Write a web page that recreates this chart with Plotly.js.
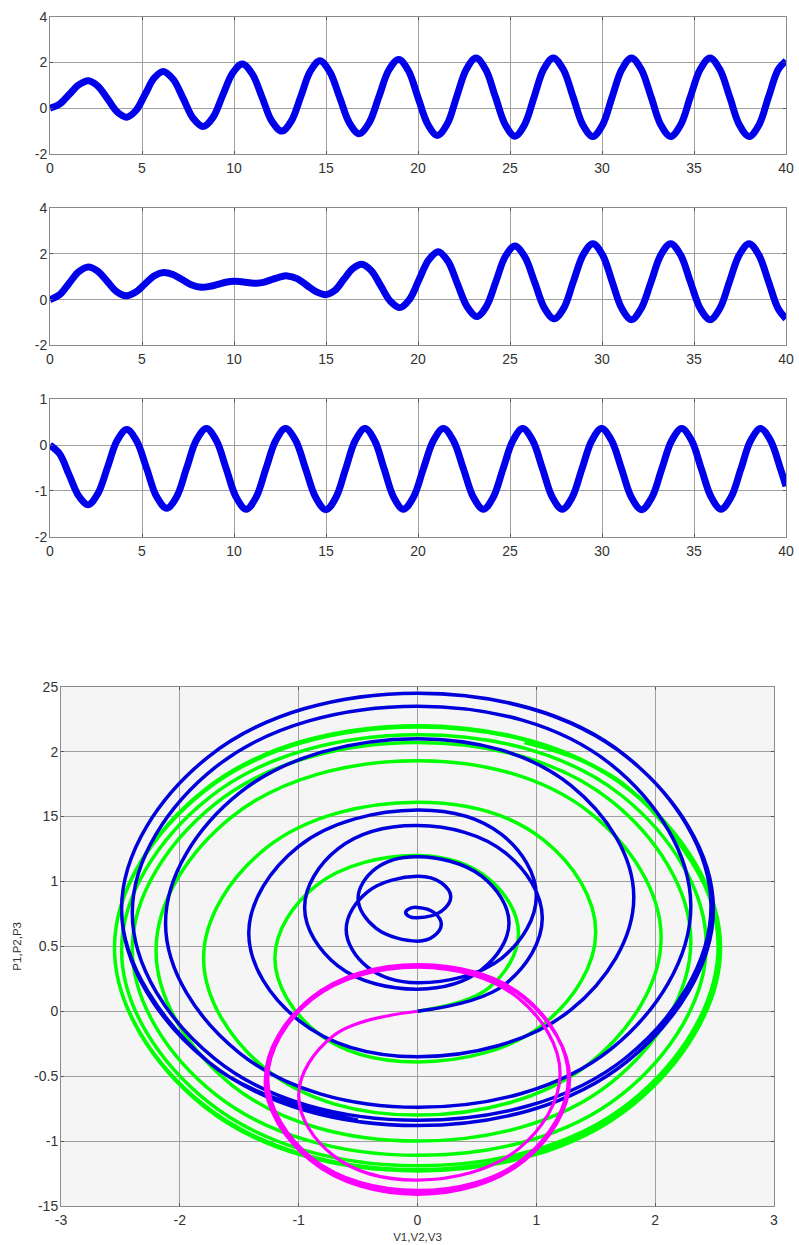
<!DOCTYPE html>
<html><head><meta charset="utf-8">
<script src="https://cdn.plot.ly/plotly-3.0.1.min.js"></script>
<style>html,body{margin:0;padding:0;background:#fff}#chart{width:799px;height:1245px}</style>
</head><body><div id="chart"></div>
<script>
// ---- data (time, P, and V = dP/dt) ----
const t1 = [0, 0.52, 1.04, 1.56, 2.08, 2.6, 3.13, 3.65, 4.17, 4.67, 5.17, 5.66, 6.16, 6.7, 7.25, 7.79, 8.33, 8.86, 9.39, 9.92, 10.45, 10.99, 11.53, 12.06, 12.6, 13.12, 13.64, 14.15, 14.67, 15.2, 15.74, 16.27, 16.8, 17.34, 17.88, 18.41, 18.95, 19.48, 20.0, 20.53, 21.05, 21.58, 22.1, 22.63, 23.15, 23.68, 24.21, 24.74, 25.27, 25.79, 26.31, 26.83, 27.35, 27.89, 28.43, 28.96, 29.5, 30.03, 30.55, 31.08, 31.6, 32.13, 32.67, 33.2, 33.73, 34.27, 34.8, 35.34, 35.87, 36.4, 36.94, 37.47, 38.0, 38.53, 39.05, 39.58, 40];
const p1 = [0, 0.18, 0.6, 1.02, 1.2, 0.97, 0.41, -0.16, -0.39, -0.1, 0.61, 1.32, 1.61, 1.26, 0.41, -0.45, -0.8, -0.4, 0.57, 1.53, 1.93, 1.5, 0.47, -0.57, -1.0, -0.55, 0.54, 1.62, 2.07, 1.6, 0.48, -0.64, -1.11, -0.64, 0.51, 1.66, 2.13, 1.64, 0.47, -0.7, -1.19, -0.7, 0.5, 1.7, 2.19, 1.69, 0.49, -0.72, -1.22, -0.72, 0.49, 1.7, 2.2, 1.7, 0.49, -0.73, -1.23, -0.73, 0.49, 1.7, 2.2, 1.7, 0.49, -0.73, -1.23, -0.73, 0.49, 1.7, 2.2, 1.7, 0.49, -0.73, -1.23, -0.73, 0.49, 1.7, 2.07];
const v1 = [0, 0.6, 0.85, 0.6, 0, -0.85, -1.2, -0.85, 0, 1.06, 1.5, 1.06, 0, -1.27, -1.8, -1.27, 0, 1.45, 2.05, 1.45, 0, -1.56, -2.2, -1.56, 0, 1.63, 2.3, 1.63, 0, -1.7, -2.4, -1.7, 0, 1.72, 2.43, 1.72, 0, -1.76, -2.49, -1.76, 0, 1.79, 2.53, 1.79, 0, -1.8, -2.55, -1.8, 0, 1.8, 2.55, 1.8, 0, -1.8, -2.55, -1.8, 0, 1.8, 2.55, 1.8, 0, -1.8, -2.55, -1.8, 0, 1.8, 2.55, 1.8, 0, -1.8, -2.55, -1.8, 0, 1.8, 2.55, 1.8, 0.9];

const t2 = [0, 0.52, 1.04, 1.56, 2.08, 2.59, 3.11, 3.62, 4.13, 4.64, 5.15, 5.65, 6.16, 6.68, 7.2, 7.71, 8.23, 8.67, 9.12, 9.56, 10.0, 10.31, 10.62, 10.92, 11.23, 11.65, 12.07, 12.48, 12.9, 13.43, 13.95, 14.48, 15.0, 15.49, 15.97, 16.46, 16.94, 17.46, 17.98, 18.5, 19.02, 19.54, 20.06, 20.58, 21.1, 21.63, 22.15, 22.68, 23.2, 23.72, 24.24, 24.75, 25.27, 25.8, 26.34, 26.87, 27.4, 27.93, 28.45, 28.98, 29.5, 30.03, 30.55, 31.08, 31.6, 32.13, 32.67, 33.2, 33.73, 34.27, 34.8, 35.34, 35.87, 36.4, 36.93, 37.46, 37.99, 38.52, 39.05, 39.57, 40];
const p2 = [0, 0.21, 0.72, 1.22, 1.43, 1.25, 0.8, 0.35, 0.17, 0.32, 0.68, 1.04, 1.19, 1.1, 0.87, 0.64, 0.54, 0.58, 0.67, 0.76, 0.8, 0.79, 0.76, 0.73, 0.72, 0.77, 0.88, 0.99, 1.04, 0.92, 0.63, 0.34, 0.22, 0.41, 0.89, 1.36, 1.55, 1.27, 0.6, -0.07, -0.35, 0.01, 0.88, 1.74, 2.1, 1.68, 0.68, -0.32, -0.74, -0.29, 0.81, 1.9, 2.35, 1.88, 0.76, -0.37, -0.84, -0.36, 0.81, 1.97, 2.45, 1.96, 0.79, -0.39, -0.88, -0.39, 0.79, 1.96, 2.45, 1.96, 0.79, -0.39, -0.88, -0.39, 0.79, 1.96, 2.45, 1.96, 0.79, -0.39, -0.84];
const v2 = [0, 0.74, 1.05, 0.74, 0, -0.67, -0.95, -0.67, 0, 0.54, 0.77, 0.54, 0, -0.35, -0.5, -0.35, 0, 0.14, 0.2, 0.14, 0, -0.07, -0.1, -0.07, 0, 0.2, 0.28, 0.2, 0, -0.42, -0.6, -0.42, 0, 0.71, 1.0, 0.71, 0, -1.0, -1.42, -1.0, 0, 1.29, 1.82, 1.29, 0, -1.5, -2.12, -1.5, 0, 1.63, 2.3, 1.63, 0, -1.7, -2.4, -1.7, 0, 1.75, 2.47, 1.75, 0, -1.76, -2.49, -1.76, 0, 1.76, 2.49, 1.76, 0, -1.76, -2.49, -1.76, 0, 1.76, 2.49, 1.76, 0, -1.76, -2.49, -1.76, -0.5];

const t3 = [0, 0.52, 1.04, 1.56, 2.08, 2.6, 3.13, 3.65, 4.17, 4.71, 5.26, 5.8, 6.34, 6.88, 7.42, 7.96, 8.5, 9.04, 9.58, 10.12, 10.66, 11.2, 11.73, 12.27, 12.8, 13.35, 13.9, 14.45, 15.0, 15.53, 16.06, 16.59, 17.12, 17.64, 18.16, 18.68, 19.2, 19.75, 20.29, 20.84, 21.38, 21.92, 22.47, 23.01, 23.55, 24.09, 24.62, 25.16, 25.69, 26.23, 26.77, 27.3, 27.84, 28.38, 28.91, 29.45, 29.98, 30.52, 31.07, 31.61, 32.15, 32.7, 33.24, 33.79, 34.33, 34.87, 35.4, 35.94, 36.47, 37.01, 37.55, 38.08, 38.62, 39.16, 39.7, 40];
const p3 = [0, -0.19, -0.65, -1.11, -1.3, -1.06, -0.48, 0.1, 0.34, 0.09, -0.52, -1.13, -1.38, -1.13, -0.51, 0.11, 0.36, 0.1, -0.52, -1.14, -1.4, -1.14, -0.52, 0.1, 0.36, 0.1, -0.53, -1.15, -1.41, -1.15, -0.53, 0.1, 0.36, 0.1, -0.52, -1.14, -1.4, -1.14, -0.52, 0.1, 0.36, 0.1, -0.52, -1.14, -1.4, -1.14, -0.52, 0.1, 0.36, 0.1, -0.52, -1.14, -1.4, -1.14, -0.52, 0.1, 0.36, 0.1, -0.53, -1.15, -1.41, -1.15, -0.53, 0.1, 0.36, 0.1, -0.52, -1.14, -1.4, -1.14, -0.52, 0.1, 0.36, 0.1, -0.52, -0.9];
const v3 = [0, -0.71, -1.0, -0.71, 0, 0.85, 1.2, 0.85, 0, -0.89, -1.26, -0.89, 0, 0.9, 1.27, 0.9, 0, -0.9, -1.28, -0.9, 0, 0.9, 1.28, 0.9, 0, -0.9, -1.28, -0.9, 0, 0.9, 1.28, 0.9, 0, -0.9, -1.28, -0.9, 0, 0.9, 1.28, 0.9, 0, -0.9, -1.28, -0.9, 0, 0.9, 1.28, 0.9, 0, -0.9, -1.28, -0.9, 0, 0.9, 1.28, 0.9, 0, -0.9, -1.28, -0.9, 0, 0.9, 1.28, 0.9, 0, -0.9, -1.28, -0.9, 0, 0.9, 1.28, 0.9, 0, -0.9, -1.28, -1.15];

// ---- tick labels ----
const timeTicks = [0, 5, 10, 15, 20, 25, 30, 35, 40];
const timeTickText = ['0', '5', '10', '15', '20', '25', '30', '35', '40'];
const yTicksA = [-2, 0, 2, 4];
const yTicksAText = ['-2', '0', '2', '4'];
const yTicksB = [-2, -1, 0, 1];
const yTicksBText = ['-2', '-1', '0', '1'];
const phaseXTicks = [-3, -2, -1, 0, 1, 2, 3];
const phaseXText = ['-3', '-2', '-1', '0', '1', '2', '3'];
const phaseYTicks = [-1.5, -1, -0.5, 0, 0.5, 1, 1.5, 2, 2.5];
const phaseYText = ['-15', '-1', '-0.5', '0', '0.5', '1', '15', '2', '25'];
const phaseXTitle = 'V1,V2,V3';
const phaseYTitle = 'P1,P2,P3';

// ---- layout helpers ----
const W = 799, H = 1245;
const xd = (l, r) => [l / W, r / W];
const yd = (t, b) => [1 - b / H, 1 - t / H];
const fam = '"Liberation Sans", Arial, sans-serif';
const tickFont = {family: fam, size: 14, color: '#333'};
function ax(extra) {
  return Object.assign({
    showgrid: true, gridcolor: '#a0a0a0', gridwidth: 1, zeroline: false,
    showline: true, linecolor: '#8a8a8a', linewidth: 1, mirror: 'ticks',
    ticks: 'inside', ticklen: 3, tickcolor: '#555', tickfont: tickFont,
    tickmode: 'array', fixedrange: true
  }, extra);
}

const blue = 'rgb(0,0,235)';
const traces = [
  {x: t1, y: p1, xaxis: 'x', yaxis: 'y', mode: 'lines', line: {color: blue, width: 7, shape: 'spline', smoothing: 1}},
  {x: t2, y: p2, xaxis: 'x2', yaxis: 'y2', mode: 'lines', line: {color: blue, width: 7, shape: 'spline', smoothing: 1}},
  {x: t3, y: p3, xaxis: 'x3', yaxis: 'y3', mode: 'lines', line: {color: blue, width: 7, shape: 'spline', smoothing: 1}},
  {x: v1, y: p1, xaxis: 'x4', yaxis: 'y4', mode: 'lines', line: {color: 'rgb(0,255,0)', width: 3.5, shape: 'spline', smoothing: 1.1}},
  {x: v2, y: p2, xaxis: 'x4', yaxis: 'y4', mode: 'lines', line: {color: 'rgb(0,0,220)', width: 3.5, shape: 'spline', smoothing: 1.1}},
  {x: v3, y: p3, xaxis: 'x4', yaxis: 'y4', mode: 'lines', line: {color: 'rgb(255,0,255)', width: 3.2, shape: 'spline', smoothing: 1.1}}
];

const layout = {
  width: W, height: H, showlegend: false,
  margin: {l: 0, r: 0, t: 0, b: 0},
  paper_bgcolor: '#fff', plot_bgcolor: 'rgba(0,0,0,0)',
  xaxis:  ax({domain: xd(50, 786), anchor: 'y',  range: [0, 40], tickvals: timeTicks, ticktext: timeTickText, ticklabelstandoff: 1}),
  yaxis:  ax({domain: yd(16.7, 154), anchor: 'x',  range: [-2, 4], tickvals: yTicksA, ticktext: yTicksAText, ticklabelstandoff: -1}),
  xaxis2: ax({domain: xd(50, 786), anchor: 'y2', range: [0, 40], tickvals: timeTicks, ticktext: timeTickText, ticklabelstandoff: 1}),
  yaxis2: ax({domain: yd(208.3, 345.3), anchor: 'x2', range: [-2, 4], tickvals: yTicksA, ticktext: yTicksAText, ticklabelstandoff: -1}),
  xaxis3: ax({domain: xd(50, 786), anchor: 'y3', range: [0, 40], tickvals: timeTicks, ticktext: timeTickText, ticklabelstandoff: 1}),
  yaxis3: ax({domain: yd(399.3, 536.7), anchor: 'x3', range: [-2, 1], tickvals: yTicksB, ticktext: yTicksBText, ticklabelstandoff: -1}),
  xaxis4: ax({domain: xd(61, 774), anchor: 'y4', range: [-3, 3], tickvals: phaseXTicks, ticktext: phaseXText, ticklabelstandoff: 1,
              title: {text: phaseXTitle, font: {family: fam, size: 11.5, color: '#333'}, standoff: 6}}),
  yaxis4: ax({domain: yd(686.7, 1206), anchor: 'x4', range: [-1.5, 2.5], tickvals: phaseYTicks, ticktext: phaseYText, ticklabelstandoff: -1,
              title: {text: phaseYTitle, font: {family: fam, size: 11.5, color: '#333'}, standoff: 10}}),
  shapes: [{type: 'rect', xref: 'x4 domain', yref: 'y4 domain', x0: 0, x1: 1, y0: 0, y1: 1,
            fillcolor: '#f5f5f5', line: {width: 0}, layer: 'below'}]
};

Plotly.newPlot('chart', traces, layout, {displayModeBar: false, staticPlot: true});
</script>
</body></html>
